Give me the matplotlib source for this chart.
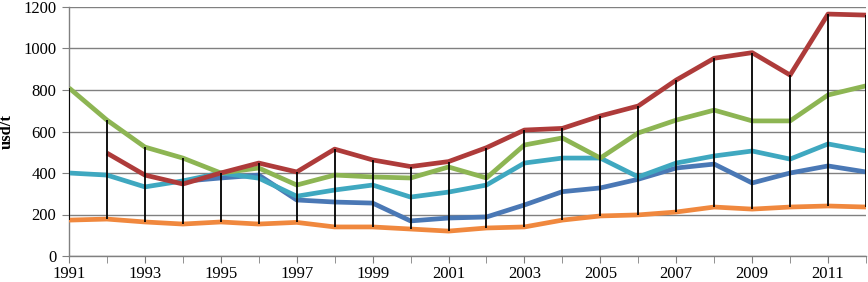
import numpy as np
import matplotlib
matplotlib.use("Agg")
import matplotlib.pyplot as plt

years = list(range(1991, 2013))
nan = np.nan
red = [nan, 496, 390, 347, 400, 448, 405, 515, 463, 431, 455, 522, 607, 615, 675, 723, 848, 953, 980, 872, 1166, 1161]
green = [810, 655, 525, 472, 400, 424, 342, 390, 381, 376, 429, 376, 535, 569, 472, 593, 655, 703, 651, 651, 776, 820]
cyan = [400, 390, 333, 362, 400, 375, 288, 318, 342, 284, 308, 342, 448, 472, 472, 381, 448, 482, 506, 467, 540, 506]
blue = [nan, nan, nan, 360, 376, 390, 270, 260, 255, 169, 183, 188, 246, 310, 328, 370, 424, 443, 352, 400, 434, 405]
orange = [173, 178, 164, 154, 164, 154, 162, 140, 140, 130, 120, 135, 140, 173, 193, 198, 212, 236, 226, 236, 241, 236]

series = [
    (blue, "#4A78B5"),
    (orange, "#F0883E"),
    (cyan, "#3FA8C0"),
    (green, "#8DB553"),
    (red, "#AE3B3A"),
]

plt.rcParams['font.family'] = ['Liberation Serif', 'DejaVu Serif']

fig = plt.figure(figsize=(8.68, 2.82), dpi=100)
ax = fig.add_axes([69/868, 26/282, 797/868, 249/282])

for vals, col in series:
    ax.plot(years, vals, color=col, lw=3.4, solid_capstyle='butt', zorder=3)

data = np.array([red, green, cyan, blue, orange], dtype=float)
hi = np.nanmax(data, axis=0)
lo = np.nanmin(data, axis=0)
ax.vlines(years, lo, hi, color='black', lw=1.3, zorder=4)

ax.set_xlim(1991, 2012)
ax.set_ylim(0, 1200)
ax.set_yticks(range(0, 1201, 200))
ax.set_xticks(years, minor=True)
ax.set_xticks(list(range(1991, 2012, 2)))
ax.grid(axis='y', color='#808080', lw=1.0, zorder=1)
for s in ['top', 'right']:
    ax.spines[s].set_visible(False)
for s in ['left', 'bottom']:
    ax.spines[s].set_color('#808080')
    ax.spines[s].set_linewidth(1.0)
ax.tick_params(axis='both', which='both', direction='out', color='#808080', labelsize=12)
ax.tick_params(axis='x', which='both', length=5, pad=2)
ax.tick_params(axis='y', length=5, pad=4)
ax.set_ylabel('usd/t', fontsize=12, fontweight='bold', labelpad=6)

fig.savefig('out.png', dpi=100)
